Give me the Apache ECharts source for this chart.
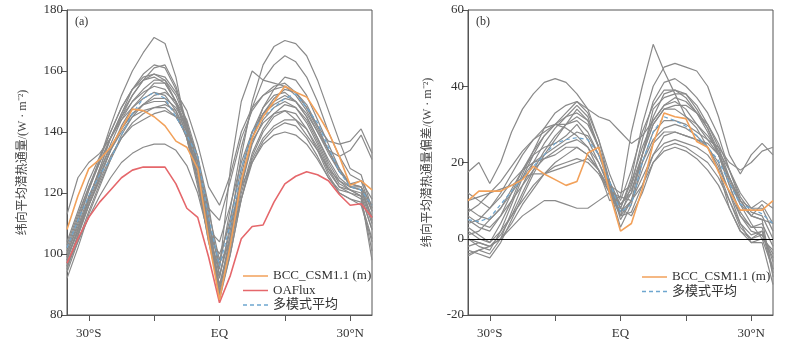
<!DOCTYPE html>
<html>
<head>
<meta charset="utf-8">
<script src="https://cdn.jsdelivr.net/npm/echarts@6/dist/echarts.min.js"></script>
<style>
  html, body { margin: 0; padding: 0; background: #fff; }
  #chart { width: 810px; height: 347px; }
</style>
</head>
<body>
<div id="chart"></div>
<script>
// latitude grid, -35 .. 35 step 2.5 (negative = south)
const lats = [-35, -32.5, -30, -27.5, -25, -22.5, -20, -17.5, -15, -12.5, -10, -7.5, -5, -2.5, 0,
  2.5, 5, 7.5, 10, 12.5, 15, 17.5, 20, 22.5, 25, 27.5, 30, 32.5, 35];

// panel (a): zonal mean latent heat flux
const oafluxA = [97, 105, 112, 117, 121, 125, 127.5, 128.5, 128.5, 128.5, 123, 115, 112, 99, 84,
  93, 105, 109, 109.5, 117, 123, 125.5, 127, 126, 124, 119.5, 116, 116.5, 112];
const bccA = [108, 119, 128, 131, 135, 141, 147.5, 147, 145, 142, 137, 135, 128, 105, 85,
  103, 124, 138, 145, 150, 155, 153, 151.5, 146, 140, 132, 122.5, 124, 121];
const meanA = [102, 111, 119, 126, 131, 139, 146, 151, 153, 151, 145, 139, 132, 112, 96,
  110, 128, 140, 145, 148, 151, 152.5, 148, 143, 135, 127, 122, 121, 116];
const modelsA = [
  [100, 110, 121, 131, 142, 152, 160, 166, 171, 169, 158, 140, 124, 104, 88, 104, 122, 138, 148, 154, 158, 157, 152, 144, 136, 128, 122, 121, 112],
  [98, 108, 118, 128, 138, 146, 154, 159, 162, 161, 154, 142, 124, 104, 92, 110, 132, 150, 162, 168, 170, 169, 165, 157, 147, 137, 128, 126, 115],
  [104, 114, 124, 132, 140, 148, 154, 158, 159, 157, 150, 138, 122, 106, 95, 128, 150, 160, 157, 156, 155, 153, 148, 141, 134, 128, 123, 124, 118],
  [95, 106, 118, 128, 138, 146, 152, 157, 161, 162, 155, 143, 128, 110, 96, 115, 135, 148, 157, 162, 165, 163, 158, 150, 140, 132, 126, 124, 114],
  [113, 125, 130, 133, 138, 145, 152, 157, 159, 158, 153, 147, 136, 122, 116, 126, 140, 148, 152, 155, 156, 153, 148, 142, 137, 136, 137, 141, 133],
  [102, 112, 122, 131, 140, 148, 154, 157, 158, 156, 150, 142, 130, 115, 111, 124, 138, 147, 152, 154, 155, 152, 147, 140, 134, 132, 134, 139, 131],
  [97, 106, 116, 125, 134, 142, 148, 152, 156, 156, 150, 140, 126, 108, 93, 108, 126, 140, 148, 152, 153, 150, 145, 138, 130, 124, 121, 120, 110],
  [100, 109, 119, 127, 135, 141, 146, 149, 150, 150, 146, 138, 124, 106, 90, 104, 122, 136, 144, 148, 150, 148, 143, 136, 128, 122, 120, 119, 108],
  [94, 104, 114, 123, 131, 138, 143, 146, 148, 149, 147, 140, 128, 108, 86, 100, 118, 132, 140, 145, 147, 146, 141, 134, 126, 120, 118, 117, 105],
  [99, 107, 116, 124, 132, 138, 142, 144, 146, 147, 145, 139, 128, 110, 97, 104, 118, 130, 137, 141, 143, 142, 138, 132, 125, 120, 118, 116, 104],
  [96, 104, 112, 119, 125, 130, 133, 135, 136, 136, 134, 129, 120, 106, 100, 110, 122, 130, 136, 139, 140, 139, 136, 131, 125, 121, 120, 118, 101],
  [103, 113, 122, 130, 138, 144, 148, 151, 153, 152, 147, 138, 124, 108, 104, 116, 130, 140, 146, 150, 152, 150, 145, 138, 131, 125, 122, 121, 111],
  [98, 108, 118, 127, 136, 144, 150, 154, 157, 157, 152, 143, 130, 112, 89, 106, 124, 138, 146, 151, 154, 153, 149, 142, 134, 127, 123, 122, 112],
  [92, 102, 113, 122, 131, 139, 145, 149, 152, 153, 150, 144, 132, 112, 87, 102, 120, 133, 141, 146, 149, 148, 144, 137, 129, 123, 121, 119, 98],
  [101, 111, 121, 130, 138, 145, 150, 153, 155, 154, 149, 141, 130, 114, 98, 112, 128, 140, 146, 149, 151, 150, 146, 140, 133, 127, 123, 122, 114],
  [96, 106, 116, 125, 134, 141, 146, 149, 151, 151, 148, 142, 132, 116, 93, 106, 124, 137, 143, 146, 147, 144, 139, 134, 128, 124, 122, 122, 116],
  [99, 108, 117, 126, 134, 140, 145, 147, 148, 148, 145, 139, 127, 108, 85, 100, 118, 131, 138, 142, 144, 144, 141, 135, 127, 122, 121, 119, 108]
];

// panel (b): bias against OAFlux
const bccB = [10, 12.5, 12.5, 12.5, 14, 15.5, 19, 17, 15.5, 14, 15, 22.5, 24, 12, 2,
  4, 13, 25, 33, 32, 31.5, 25.5, 24, 17.5, 12.5, 7.5, 7.5, 7.5, 10];
const meanB = [5, 4.5, 5.5, 9, 12.5, 16, 19, 22, 25, 26, 26.5, 26, 22, 15, 7,
  9, 20, 28, 32, 31, 29.5, 27, 24, 20.5, 14.5, 9, 8, 6.5, 4];
const modelsB = [
  [17.5, 20, 14.5, 20, 28, 34, 38, 41, 42, 41, 38, 34, 32, 31, 28, 25, 27, 31, 35, 36, 34, 30, 26, 24, 20, 18, 20, 23, 24],
  [5, 3, 2, 6, 12, 18, 23, 27, 30, 32, 33, 31, 24, 14, 8, 16, 30, 40, 45, 46, 45, 44, 40, 32, 22, 17, 22, 25, 22],
  [7, 9, 12, 15, 19, 23, 26, 28, 30, 29, 27, 24, 18, 10, 11, 28, 40, 51, 44, 38, 32, 29, 24, 18, 8, 2, 0, 2, -6],
  [2, 0, -1, 4, 10, 17, 23, 29, 33, 35, 36, 34, 26, 15, 6, 14, 26, 36, 41, 42, 40, 37, 33, 27, 18, 10, 6, 5, -10],
  [0, -2, -3, 2, 9, 16, 22, 27, 30, 33, 36, 33, 26, 17, 10, 18, 28, 35, 39, 39, 37, 33, 28, 22, 14, 7, 3, 3, -8],
  [12, 10, 8, 12, 17, 22, 26, 29, 30, 30, 31, 28, 22, 14, 8, 15, 24, 31, 35, 37, 36, 33, 29, 23, 15, 9, 6, 9, 4],
  [-4, -3, -4, 0, 7, 14, 20, 25, 29, 32, 35, 32, 24, 15, 5, 10, 22, 32, 38, 39, 38, 34, 29, 22, 14, 6, 2, 1, -4],
  [1, 2, 5, 8, 13, 18, 22, 24, 25, 27, 30, 26, 20, 13, 7, 12, 22, 30, 34, 34, 32, 30, 27, 23, 18, 12, 8, 8, 2],
  [-3, -4, -5, -1, 5, 11, 17, 22, 26, 30, 34, 31, 24, 13, 3, 9, 20, 28, 31, 31, 30, 28, 26, 22, 16, 9, 4, 0, -8],
  [4, 5, 8, 11, 15, 18, 20, 21, 22, 24, 24, 22, 18, 12, 6, 10, 18, 25, 28, 28, 27, 26, 25, 22, 16, 10, 6, 5, 4],
  [8, 6, 5, 8, 12, 16, 20, 22, 24, 26, 28, 27, 22, 15, 9, 13, 20, 26, 29, 30, 29, 27, 24, 19, 12, 6, 3, 4, -2],
  [-2, -1, -2, 0, 4, 9, 13, 17, 20, 22, 24, 22, 18, 13, 6, 7, 14, 22, 27, 28, 27, 26, 24, 20, 12, 4, -1, -1, -12],
  [3, 1, -1, 2, 6, 10, 14, 17, 19, 20, 21, 20, 17, 12, 7, 10, 16, 22, 25, 26, 25, 24, 22, 18, 10, 3, 0, 1, -5],
  [-4.5, -3, -2, 0, 3, 6, 8, 10, 10, 9, 8, 8, 10, 12, 11, 10, 14, 20, 23, 24, 23, 21, 18, 14, 8, 2, -1, 0, -3],
  [6, 4, 3, 6, 10, 14, 18, 21, 23, 25, 26, 24, 20, 14, 12, 14, 22, 30, 34, 35, 35, 33, 30, 25, 18, 11, 7, 6, 0],
  [0, -1, -2, 1, 6, 12, 18, 23, 27, 30, 32, 30, 24, 15, 8, 6, 12, 20, 24, 25, 24, 22, 20, 16, 10, 4, 1, 2, -9],
  [10, 11, 12, 13, 14, 16, 17, 17, 18, 19, 20, 21, 18, 13, 9, 12, 22, 34, 37, 38, 38, 35, 30, 24, 16, 10, 8, 10, 8]
];

const latTicks = [-30, -15, 0, 15, 30];
const latLabels = [-30, 0, 30];
const yNameA = "纬向平均潜热通量/(W · m⁻²)";
const yNameB = "纬向平均潜热通量偏差/(W · m⁻²)";
const legendA = ["BCC_CSM1.1 (m)", "OAFlux", "多模式平均"];
const legendB = ["BCC_CSM1.1 (m)", "多模式平均"];

const FONT = "'Liberation Serif', 'Noto Sans CJK SC', serif";
const GRAY = "#8a8a8a";
const ORANGE = "#f2a15a";
const RED = "#e5676b";
const BLUE = "#6ea6cf";
const AXIS = "#555";
const styleOf = {
  "BCC_CSM1.1 (m)": { color: ORANGE, type: "solid" },
  "OAFlux": { color: RED, type: "solid" },
  "多模式平均": { color: BLUE, type: [4, 3] }
};

const pair = (vals) => vals.map((v, i) => [lats[i], v]);
const latFmt = (v) => (v === 0 ? "EQ" : v < 0 ? Math.abs(v) + "°S" : v + "°N");

function xAxisFor(idx) {
  return {
    type: "value", gridIndex: idx, min: -35, max: 35,
    axisLine: { onZero: false, lineStyle: { color: AXIS } },
    axisTick: { customValues: latTicks, length: 6, lineStyle: { color: AXIS } },
    axisLabel: { customValues: latLabels, formatter: latFmt, color: "#333", fontFamily: FONT, fontSize: 13, margin: 12 },
    splitLine: { show: false }
  };
}
function yAxisFor(idx, min, max, name, gap) {
  return {
    type: "value", gridIndex: idx, min: min, max: max, interval: 20,
    name: name, nameLocation: "middle", nameRotate: 90, nameGap: gap,
    nameTextStyle: { color: "#444", fontFamily: FONT, fontSize: 12 },
    axisLine: { show: true, onZero: false, lineStyle: { color: AXIS } },
    axisTick: { show: true, length: 6, lineStyle: { color: AXIS } },
    axisLabel: { color: "#333", fontFamily: FONT, fontSize: 13, margin: 4 },
    splitLine: { show: false }
  };
}
function line(name, idx, vals, color, width, type, z) {
  return {
    name: name, type: "line", xAxisIndex: idx, yAxisIndex: idx,
    data: pair(vals), showSymbol: false, symbol: "none", silent: true, z: z,
    lineStyle: { color: color, width: width, type: type }, itemStyle: { color: color }
  };
}
// legend drawn as graphic rows (line sample + label)
function legendRows(names, left, top) {
  const out = [];
  names.forEach((n, i) => {
    const y = top + i * 14.5;
    out.push({
      type: "line", silent: true,
      shape: { x1: left, y1: y, x2: left + 25, y2: y },
      style: { stroke: styleOf[n].color, lineWidth: 1.5, lineDash: Array.isArray(styleOf[n].type) ? styleOf[n].type : null }
    });
    out.push({
      type: "text", silent: true, x: left + 30, y: y,
      style: { text: n, fill: "#333", font: "13px " + FONT, textVerticalAlign: "middle", verticalAlign: "middle" }
    });
  });
  return out;
}

const series = [];
modelsA.forEach((m, i) => series.push(line("modelA" + i, 0, m, GRAY, 1.2, "solid", 2)));
series.push(line("多模式平均", 0, meanA, BLUE, 1.2, [4, 3], 3));
series.push(line("OAFlux", 0, oafluxA, RED, 1.6, "solid", 4));
series.push(line("BCC_CSM1.1 (m)", 0, bccA, ORANGE, 1.6, "solid", 5));

modelsB.forEach((m, i) => series.push(line("modelB" + i, 1, m, GRAY, 1.2, "solid", 2)));
series.push(line("多模式平均", 1, meanB, BLUE, 1.2, [4, 3], 3));
const bccBSeries = line("BCC_CSM1.1 (m)", 1, bccB, ORANGE, 1.6, "solid", 5);
bccBSeries.markLine = {
  silent: true, symbol: "none", label: { show: false },
  lineStyle: { color: "#000", width: 1, type: "solid" },
  data: [{ yAxis: 0 }]
};
series.push(bccBSeries);

const chart = echarts.init(document.getElementById("chart"), null, { renderer: "canvas" });
chart.setOption({
  animation: false,
  backgroundColor: "#fff",
  title: [
    { text: "(a)", left: 70, top: 11, textStyle: { fontFamily: FONT, fontSize: 12, fontWeight: "normal", color: "#333" } },
    { text: "(b)", left: 471, top: 11, textStyle: { fontFamily: FONT, fontSize: 12, fontWeight: "normal", color: "#333" } }
  ],
  grid: [
    { left: 67, top: 10, width: 305, height: 305, show: true, borderColor: AXIS, borderWidth: 1 },
    { left: 468, top: 10, width: 305, height: 305, show: true, borderColor: AXIS, borderWidth: 1 }
  ],
  xAxis: [xAxisFor(0), xAxisFor(1)],
  yAxis: [yAxisFor(0, 80, 180, yNameA, 38), yAxisFor(1, -20, 60, yNameB, 34)],
  graphic: legendRows(legendA, 243, 276).concat(legendRows(legendB, 642, 277)),
  series: series
});
</script>
</body>
</html>
